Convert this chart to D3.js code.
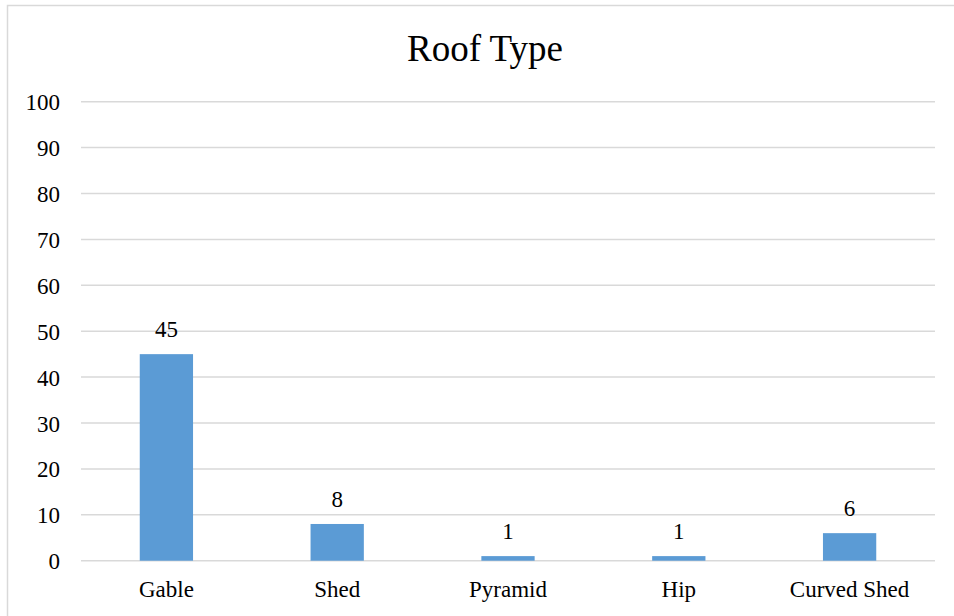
<!DOCTYPE html>
<html>
<head>
<meta charset="utf-8">
<script src="https://cdn.jsdelivr.net/npm/d3@7"></script>
<style>
  html, body { margin: 0; padding: 0; background: #fff; }
  svg { display: block; font-family: "Liberation Serif", "Times New Roman", serif; }
</style>
</head>
<body>
<svg id="chart" width="954" height="616"></svg>
<script>
// Roof type counts
const categories = ["Gable", "Shed", "Pyramid", "Hip", "Curved Shed"];
const counts = [45, 8, 1, 1, 6];
const yTicks = [0, 10, 20, 30, 40, 50, 60, 70, 80, 90, 100];
const title = "Roof Type";

const svg = d3.select("#chart");
const plot = { left: 81, right: 935, top: 101.7, bottom: 560.7 };
const serif = "Liberation Serif, Times New Roman, serif";

// chart frame
svg.append("rect")
  .attr("x", 7.5).attr("y", 5.5)
  .attr("width", 970).attr("height", 640)
  .attr("fill", "none")
  .attr("stroke", "#d9d9d9")
  .attr("stroke-width", 1.5);

const x = d3.scaleBand()
  .domain(categories)
  .range([plot.left, plot.right])
  .padding(0);

const y = d3.scaleLinear()
  .domain([0, 100])
  .range([plot.bottom, plot.top]);

// horizontal gridlines
svg.append("g")
  .selectAll("line")
  .data(yTicks)
  .join("line")
  .attr("x1", plot.left).attr("x2", plot.right)
  .attr("y1", d => y(d)).attr("y2", d => y(d))
  .attr("stroke", "#d9d9d9")
  .attr("stroke-width", 1.5);

// y axis labels
const yAxis = d3.axisLeft(y).tickValues(yTicks).tickSize(0).tickPadding(0);
const gy = svg.append("g")
  .attr("transform", `translate(${plot.left - 21},0)`)
  .call(yAxis);
gy.select(".domain").remove();
gy.selectAll("text")
  .attr("font-family", serif)
  .attr("font-size", 23)
  .attr("fill", "#000")
  .attr("dy", "0.35em");

// x axis labels
const xAxis = d3.axisBottom(x).tickSize(0).tickPadding(0);
const gx = svg.append("g")
  .attr("transform", `translate(0,${plot.bottom})`)
  .call(xAxis);
gx.select(".domain").remove();
gx.selectAll("text")
  .attr("font-family", serif)
  .attr("font-size", 23)
  .attr("fill", "#000")
  .attr("dy", null)
  .attr("y", 36);

// bars
const barW = x.bandwidth() * 0.312;
const data = categories.map((c, i) => ({ c, v: counts[i] }));
svg.append("g")
  .selectAll("rect")
  .data(data)
  .join("rect")
  .attr("x", d => x(d.c) + x.bandwidth() / 2 - barW / 2)
  .attr("width", barW)
  .attr("y", d => y(d.v))
  .attr("height", d => y(0) - y(d.v))
  .attr("fill", "#5b9bd5");

// value labels
svg.append("g")
  .selectAll("text")
  .data(data)
  .join("text")
  .attr("x", d => x(d.c) + x.bandwidth() / 2)
  .attr("y", d => y(d.v) - 17)
  .attr("text-anchor", "middle")
  .attr("font-family", serif)
  .attr("font-size", 23)
  .attr("fill", "#000")
  .text(d => d.v);

// title
svg.append("text")
  .attr("x", 485)
  .attr("y", 61)
  .attr("text-anchor", "middle")
  .attr("font-family", serif)
  .attr("font-size", 37)
  .attr("fill", "#000")
  .text(title);
</script>
</body>
</html>
